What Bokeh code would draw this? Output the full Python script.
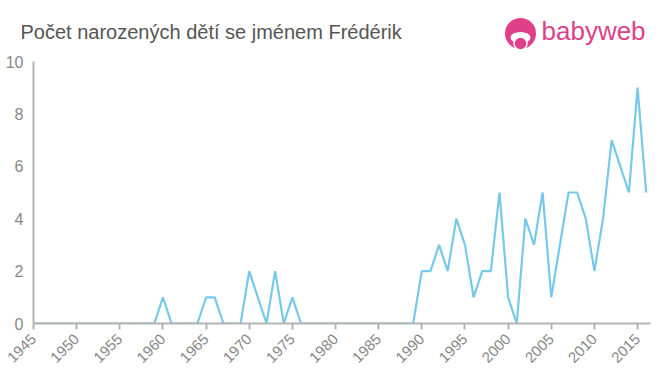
from bokeh.plotting import figure
from bokeh.models import Range1d, FixedTicker
from bokeh.layouts import column, row
from bokeh.core.properties import value
from bokeh.embed import file_html
from bokeh.resources import INLINE
import math

years = list(range(1945, 2017))
counts = [0]*15 + [1, 0, 0, 0, 0, 1, 1, 0, 0, 0, 2, 1, 0, 2, 0, 1, 0] + [0]*13 + \
    [2, 2, 3, 2, 4, 3, 1, 2, 2, 5, 1, 0, 4, 3, 5, 1, 3, 5, 5, 4, 2, 4, 7, 6, 5, 9, 5]
x_ticks = list(range(1945, 2020, 5))
y_ticks = [0, 2, 4, 6, 8, 10]
title = "Počet narozených dětí se jménem Frédérik"
logo = "babyweb"
pink = "#e0408a"

# header (title + logo), pixel-like coordinates
h = figure(width=660, height=51, output_backend="svg", toolbar_location=None,
           x_range=Range1d(0, 660), y_range=Range1d(51, 0),
           x_axis_type=None, y_axis_type=None,
           min_border_left=0, min_border_right=0, min_border_top=0, min_border_bottom=0)
h.outline_line_color = None
h.xgrid.grid_line_color = None
h.ygrid.grid_line_color = None
h.text(x=[20], y=[42], text=[title], text_baseline="bottom",
       text_font=value("Liberation Sans"), text_font_size="20px", text_color="#555555")
h.scatter(x=[520], y=[33], size=31, marker="circle", fill_color=pink, line_color=None)
h.ellipse(x=[520], y=[37], width=20, height=11, fill_color="white", line_color=None)
h.scatter(x=[520], y=[43], size=13, marker="circle", fill_color=pink, line_color="white", line_width=1.5)
h.text(x=[541], y=[45.5], text=[logo], text_baseline="bottom",
       text_font=value("Liberation Sans"), text_font_size="26px", text_color=pink)

p = figure(width=652, height=322, output_backend="svg", toolbar_location=None,
           x_range=Range1d(1945, 2016.5), y_range=Range1d(0, 10),
           min_border_left=33, min_border_right=2, min_border_top=10, min_border_bottom=50)
p.outline_line_color = None
p.xgrid.grid_line_color = None
p.ygrid.grid_line_color = None

p.line(years, counts, line_color="#76c9ea", line_width=2.2)

p.xaxis.ticker = FixedTicker(ticks=x_ticks)
p.yaxis.ticker = FixedTicker(ticks=y_ticks)
p.xaxis.major_label_orientation = math.pi/4
for ax in (p.xaxis, p.yaxis):
    ax.axis_line_color = "#b3b3b3"
    ax.axis_line_width = 2
    ax.major_tick_line_color = "#b3b3b3"
    ax.major_tick_line_width = 2
    ax.minor_tick_line_color = None
    ax.major_label_text_color = "#888888"
    ax.major_label_text_font = "Liberation Sans"
p.xaxis.major_label_text_font_size = "15px"
p.yaxis.major_label_text_font_size = "16px"
p.xaxis.major_tick_out = 6
p.xaxis.major_tick_in = 0
p.yaxis.major_tick_out = 0
p.yaxis.major_tick_in = 0
p.yaxis.major_label_standoff = 10
p.xaxis.major_label_standoff = 7

layout = column(row(h), p, spacing=0)
open("out.html", "w").write(file_html(layout, INLINE))
